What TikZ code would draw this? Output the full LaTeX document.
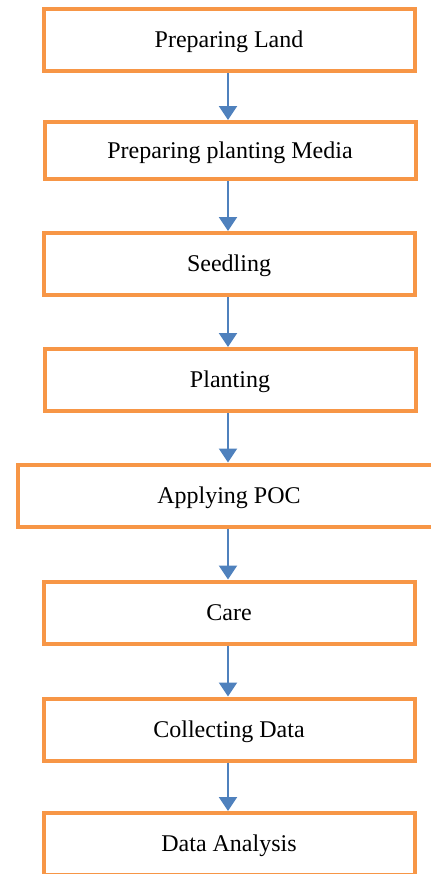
\documentclass[tikz,border=0pt]{standalone}
\usepackage{fontspec}
\setmainfont{Liberation Serif}
\usepackage{tikz}
\usetikzlibrary{arrows.meta}
\definecolor{stepOrange}{RGB}{247,150,70}
\definecolor{flowBlue}{RGB}{79,129,189}

\begin{document}
\begin{tikzpicture}[
    x=0.5pt, y=-0.5pt,
    stepbox/.style={rectangle, draw=stepOrange, line width=2pt, fill=white, align=center,
        minimum width=185.5pt, minimum height=31pt, text height=7.8pt, text depth=0pt,
        font=\fontsize{12}{14}\selectfont},
    arrow/.style={-{Triangle[width=9pt,length=7pt]}, draw=flowBlue, fill=flowBlue, line width=1.2pt}
]
    \clip (0,0) rectangle (431,874);
    % Steps
    \node[stepbox] (land) at (229,40) {Preparing Land};
    \node[stepbox, minimum height=28.5pt] (media) at (230,150.5) {Preparing planting Media};
    \node[stepbox] (seed) at (229,264) {Seedling};
    \node[stepbox] (plant) at (230,380) {Planting};
    \node[stepbox, minimum width=211pt] (poc) at (229,495.5) {Applying POC};
    \node[stepbox] (care) at (229,612.5) {Care};
    \node[stepbox] (collect) at (229,729.5) {Collecting Data};
    \node[stepbox] (analysis) at (229,844) {Data Analysis};

    % Arrows
    \draw[arrow] (land.south -| 228,0) -- (media.north -| 228,0);
    \draw[arrow] (media.south -| 228,0) -- (seed.north -| 228,0);
    \draw[arrow] (seed.south -| 228,0) -- (plant.north -| 228,0);
    \draw[arrow] (plant.south -| 228,0) -- (poc.north -| 228,0);
    \draw[arrow] (poc.south -| 228,0) -- (care.north -| 228,0);
    \draw[arrow] (care.south -| 228,0) -- (collect.north -| 228,0);
    \draw[arrow] (collect.south -| 228,0) -- (analysis.north -| 228,0);
\end{tikzpicture}
\end{document}
